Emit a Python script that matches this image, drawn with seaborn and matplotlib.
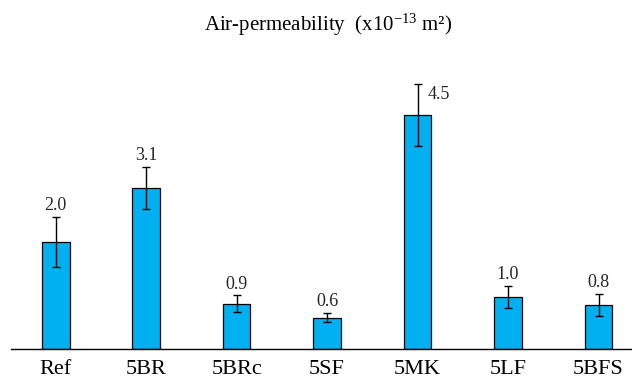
import matplotlib
matplotlib.use("Agg")
import matplotlib.pyplot as plt
import seaborn as sns
import numpy as np
import pandas as pd

categories = ["Ref", "5BR", "5BRc", "5SF", "5MK", "5LF", "5BFS"]
values = [2.06, 3.1, 0.87, 0.6, 4.5, 1.0, 0.85]
errors = [0.48, 0.40, 0.16, 0.09, 0.60, 0.21, 0.21]
labels = ["2.0", "3.1", "0.9", "0.6", "4.5", "1.0", "0.8"]

sns.set_theme(style="white")
plt.rcParams["font.family"] = ["Liberation Serif", "DejaVu Serif"]
plt.rcParams["mathtext.fontset"] = "custom"
plt.rcParams["mathtext.rm"] = "Liberation Serif"
plt.rcParams["mathtext.it"] = "Liberation Serif:italic"
plt.rcParams["mathtext.bf"] = "Liberation Serif:bold"

df = pd.DataFrame({"cat": categories, "val": values})

fig = plt.figure(figsize=(6.32, 3.81), dpi=100)
ax = fig.add_axes([10.5 / 632, 32 / 381, 621.5 / 632, 312 / 381])

sns.barplot(data=df, x="cat", y="val", order=categories, color="#00B0F0",
            saturation=1, width=0.306, edgecolor="black", linewidth=0.9,
            errorbar=None, ax=ax)

xs = np.arange(len(categories))
ax.errorbar(xs, values, yerr=errors, fmt="none", ecolor="black",
            elinewidth=1.0, capsize=3.2, capthick=1.0)

imax = int(np.argmax(values))
for i, (v, e, lab) in enumerate(zip(values, errors, labels)):
    if i == imax:
        ax.annotate(lab, (xs[i], v + e), xytext=(7, -7.5), textcoords="offset points",
                    ha="left", va="center", fontsize=13)
    else:
        ax.annotate(lab, (xs[i], v + e), xytext=(0, 2), textcoords="offset points",
                    ha="center", va="bottom", fontsize=13)

ax.set_xlim(-0.5, (632 - 55.5) / 90.5)
ax.set_ylim(0, 6)
for s in ["top", "right", "left"]:
    ax.spines[s].set_visible(False)
ax.spines["bottom"].set_color("black")
ax.spines["bottom"].set_linewidth(1.0)
ax.set_yticks([])
ax.set_xlabel("")
ax.set_ylabel("")
ax.tick_params(axis="x", length=0, pad=8, labelsize=16, colors="black")

fig.text(328 / 632, 1 - 25 / 381, "Air-permeability  (x10$^{-13}$ m²)",
         ha="center", va="center", fontsize=15, color="black")

fig.savefig("out.png", dpi=100)
